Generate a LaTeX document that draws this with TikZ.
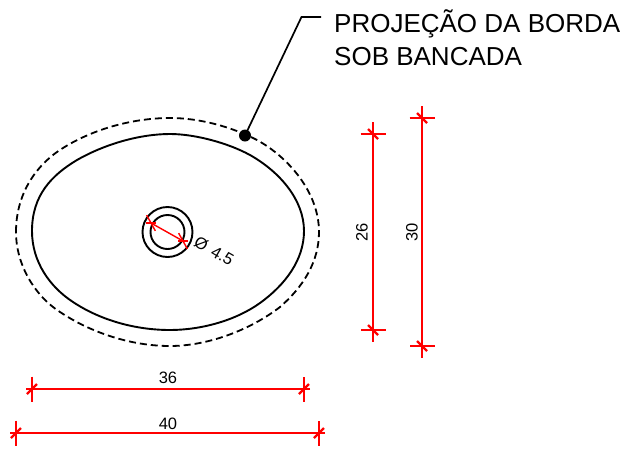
\documentclass[tikz,border=0pt]{standalone}
\usepackage{fontspec}
\setmainfont{Liberation Sans}
\definecolor{dimred}{RGB}{255,0,0}
\tikzset{
    dimline/.style={draw=dimred, line width=1.4pt},
    slash/.style={draw=dimred, line width=2.4pt},
    dimtext/.style={font=\fontsize{16.5}{18}\selectfont, inner sep=0pt},
    leadtext/.style={font=\fontsize{26}{33}\selectfont, align=left, inner sep=0pt, anchor=north west}
}
% one end of a dimension: cross line and short slash
\newcommand{\dimend}[2]{
    \draw[dimline, shift={(#1)}, rotate=#2] (-6,0) -- (12,0);
    \draw[dimline, shift={(#1)}, rotate=#2] (0,-12.5) -- (0,12.5);
    \draw[slash, shift={(#1)}, rotate=#2] (-5,5) -- (5,-5);
}
\begin{document}
\begin{tikzpicture}[x=1pt, y=-1pt]
    \useasboundingbox (0,0) rectangle (625,448);

    % basin
    \draw[line width=1.9pt] (32,231)
        .. controls (32,195) and (52,175) .. (77,160)
        .. controls (105,144) and (140,134) .. (170,134)
        .. controls (195,134) and (228,143) .. (250,155)
        .. controls (280,172) and (304,200) .. (304,231)
        .. controls (304,260) and (285,285) .. (260,303)
        .. controls (235,321) and (200,330) .. (170,330)
        .. controls (135,330) and (100,320) .. (73,302)
        .. controls (50,287) and (32,262) .. cycle;
    % rim
    \draw[line width=1.8pt, dash pattern=on 7pt off 4pt] (16,232)
        .. controls (16,190) and (40,162) .. (63,148)
        .. controls (95,128) and (135,118) .. (170,118)
        .. controls (200,118) and (232,127) .. (257,140)
        .. controls (288,157) and (319,192) .. (319,232)
        .. controls (319,262) and (303,287) .. (280,307)
        .. controls (250,330) and (208,346) .. (170,346)
        .. controls (130,346) and (90,332) .. (60,312)
        .. controls (35,296) and (16,265) .. cycle;
    \draw[line width=1.9pt] (167.5,232) circle (25);
    \draw[line width=1.9pt] (167.5,232) circle (17);

    % leader
    \coordinate (dot) at (245,135.5);
    \coordinate (bend) at (301.5,17);
    \coordinate (tail) at (321,17);
    \fill (dot) circle (6);
    \draw[line width=1.7pt] (dot) -- (bend) -- (tail);
    \node[leadtext] (lead) at (334,9) {PROJEÇÃO DA BORDA\\SOB BANCADA};

    % widths
    \coordinate (wa) at (32,389);
    \coordinate (wb) at (304,389);
    \coordinate (wc) at (16,433);
    \coordinate (wd) at (319,433);
    \draw[dimline] (wa) -- (wb);
    \draw[dimline] (wc) -- (wd);
    \dimend{wa}{0}
    \dimend{wb}{180}
    \dimend{wc}{0}
    \dimend{wd}{180}
    \node[dimtext] (w36) at (168,378) {36};
    \node[dimtext] (w40) at (168,423.5) {40};

    % heights
    \coordinate (ha) at (373,134);
    \coordinate (hb) at (373,330);
    \coordinate (hc) at (422,118);
    \coordinate (hd) at (422,346);
    \draw[dimline] (ha) -- (hb);
    \draw[dimline] (hc) -- (hd);
    \dimend{ha}{90}
    \dimend{hb}{-90}
    \dimend{hc}{90}
    \dimend{hd}{-90}
    \node[dimtext, rotate=90] (h26) at (362,232) {26};
    \node[dimtext, rotate=90] (h30) at (412,232) {30};

    % hole
    \coordinate (ca) at (151,223);
    \coordinate (cb) at (183,241);
    \draw[dimline] (ca) -- (cb);
    \draw[dimline, shift={(ca)}, rotate=29] (0,-9) -- (0,9);
    \draw[dimline, shift={(cb)}, rotate=29] (0,-9) -- (0,9);
    \draw[slash] (146,223) -- (156,223);
    \draw[slash] (178,241) -- (188,241);
    \node[dimtext, rotate=-30] (hole) at (214,251) {Ø \hspace{2pt}4.5};
\end{tikzpicture}
\end{document}
